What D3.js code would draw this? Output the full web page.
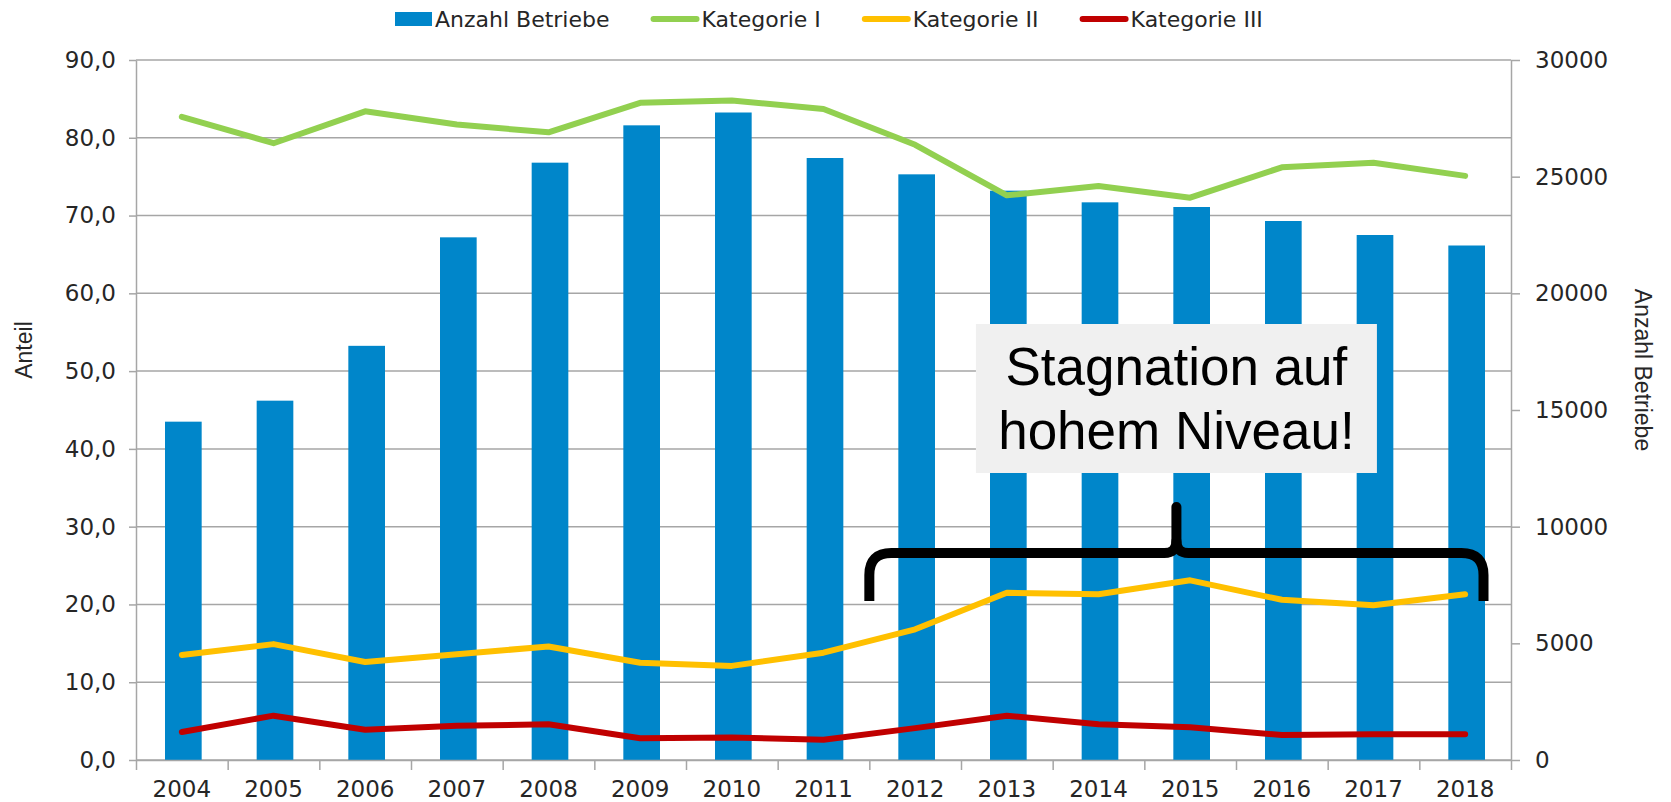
<!DOCTYPE html>
<html>
<head>
<meta charset="utf-8">
<script src="https://cdn.jsdelivr.net/npm/d3@7"></script>
<style>
  body { margin: 0; background: #fff; }
  svg { display: block; }
</style>
</head>
<body>
<svg id="chart"></svg>
<script>
// data
let years = ["2004", "2005", "2006", "2007", "2008", "2009", "2010", "2011", "2012", "2013", "2014", "2015", "2016", "2017", "2018"]
let betriebe = [14500, 15400, 17750, 22400, 25600, 27200, 27750, 25800, 25100, 24400, 23900, 23700, 23100, 22500, 22050]
let katI = [82.7, 79.3, 83.4, 81.7, 80.7, 84.5, 84.8, 83.7, 79.1, 72.6, 73.8, 72.3, 76.2, 76.8, 75.1]
let katII = [13.5, 14.9, 12.6, 13.6, 14.6, 12.5, 12.1, 13.8, 16.8, 21.5, 21.3, 23.1, 20.6, 19.9, 21.3]
let katIII = [3.6, 5.7, 3.9, 4.4, 4.6, 2.8, 2.9, 2.6, 4.1, 5.7, 4.6, 4.2, 3.2, 3.3, 3.3]
let leftTicks = [0, 10, 20, 30, 40, 50, 60, 70, 80, 90]
let rightTicks = [0, 5000, 10000, 15000, 20000, 25000, 30000]
let seriesNames = ["Anzahl Betriebe", "Kategorie I", "Kategorie II", "Kategorie III"]
let noteLines = ["Stagnation auf", "hohem Niveau!"]

let width = 1671
let height = 802
let margin = { top: 60, right: 160, bottom: 42, left: 136 }

let colors = { bar: "#0086ca", k1: "#92d050", k2: "#ffc000", k3: "#c00000" }
let gridColor = "#a6a6a6"
let textColor = "#262626"

let svg = d3.select("#chart")
    .attr("width", width)
    .attr("height", height)

// scales
let xb = d3.scaleBand()
    .domain(years)
    .range([margin.left, width - margin.right])
    .paddingInner(0.6)
    .paddingOuter(0.3)
let xTick = d3.scaleLinear().domain([0, years.length]).range([margin.left, width - margin.right])
let yL = d3.scaleLinear().domain([0, 90]).range([height - margin.bottom, margin.top])
let yR = d3.scaleLinear().domain([0, 30000]).range([height - margin.bottom, margin.top])
let cx = d => xb(d) + xb.bandwidth() / 2

// gridlines
svg.append("g")
    .selectAll("line")
    .data(leftTicks)
    .enter()
    .append("line")
    .attr("x1", margin.left)
    .attr("x2", width - margin.right)
    .attr("y1", d => yL(d))
    .attr("y2", d => yL(d))
    .attr("stroke", gridColor)
    .attr("stroke-width", 1.5)

// bars
svg.append("g")
    .selectAll("rect")
    .data(years)
    .enter()
    .append("rect")
    .attr("x", d => xb(d) + 1.5)
    .attr("width", xb.bandwidth())
    .attr("y", (d, i) => yR(betriebe[i]))
    .attr("height", (d, i) => yR(0) - yR(betriebe[i]))
    .attr("fill", colors.bar)

// lines
let line = d3.line()
    .x((d, i) => cx(years[i]))
    .y(d => yL(d))

let lineSeries = [[katI, colors.k1], [katII, colors.k2], [katIII, colors.k3]]
svg.append("g")
    .selectAll("path")
    .data(lineSeries)
    .enter()
    .append("path")
    .attr("d", d => line(d[0]))
    .attr("fill", "none")
    .attr("stroke", d => d[1])
    .attr("stroke-width", 6)
    .attr("stroke-linecap", "round")
    .attr("stroke-linejoin", "round")

// axes
function styleAxis(g) {
    g.selectAll("path, line").attr("stroke", gridColor).attr("stroke-width", 1.5)
    g.selectAll("text")
        .attr("fill", textColor)
        .style("font-family", "'DejaVu Sans', Verdana, sans-serif")
        .style("font-size", "23px")
}

svg.append("g")
    .attr("transform", "translate(" + margin.left + ",0)")
    .call(d3.axisLeft(yL).tickValues(leftTicks).tickSize(7).tickSizeOuter(0).tickPadding(13)
        .tickFormat(d => d.toFixed(1).replace(".", ",")))
    .call(styleAxis)

svg.append("g")
    .attr("transform", "translate(" + (width - margin.right) + ",0)")
    .call(d3.axisRight(yR).tickValues(rightTicks).tickSize(9).tickSizeOuter(0).tickPadding(15)
        .tickFormat(d3.format("d")))
    .call(styleAxis)

// bottom axis: tick marks on category boundaries, labels in the middle
svg.append("g")
    .attr("transform", "translate(0," + (height - margin.bottom) + ")")
    .call(d3.axisBottom(xTick).ticks(years.length).tickSize(10).tickSizeOuter(0).tickFormat(""))
    .call(styleAxis)

svg.append("g")
    .attr("transform", "translate(0," + (height - margin.bottom) + ")")
    .call(d3.axisBottom(xb).tickSize(0).tickPadding(21))
    .call(styleAxis)
    .call(g => g.select(".domain").remove())

// axis titles
svg.append("text")
    .text("Anteil")
    .attr("transform", "translate(32," + 350 + ") rotate(-90)")
    .attr("text-anchor", "middle")
    .attr("fill", textColor)
    .style("font-family", "'Liberation Sans', Arial, sans-serif")
    .style("font-size", "23px")

svg.append("text")
    .text("Anzahl Betriebe")
    .attr("transform", "translate(1635," + 370 + ") rotate(90)")
    .attr("text-anchor", "middle")
    .attr("fill", textColor)
    .style("font-family", "'Liberation Sans', Arial, sans-serif")
    .style("font-size", "23px")

// legend, laid out left to right
let legend = svg.append("g")
let legendColors = [colors.bar, colors.k1, colors.k2, colors.k3]
let lx = 395
seriesNames.forEach(function (name, i) {
    let sw = i == 0 ? 37 : 47
    if (i == 0) {
        legend.append("rect").attr("x", lx).attr("y", 12).attr("width", sw).attr("height", 14)
            .attr("fill", legendColors[i])
    } else {
        legend.append("line").attr("x1", lx + 2).attr("x2", lx + sw - 2).attr("y1", 19).attr("y2", 19)
            .attr("stroke", legendColors[i]).attr("stroke-width", 6).attr("stroke-linecap", "round")
    }
    let t = legend.append("text")
        .text(name)
        .attr("x", lx + sw + 3)
        .attr("y", 27)
        .attr("fill", textColor)
        .style("font-family", "'DejaVu Sans', Verdana, sans-serif")
        .style("font-size", "22px")
    lx += sw + 3 + t.node().getComputedTextLength() + 42
})

// annotation: curly brace over 2012-2018 plus note box
let bL = xb("2012") - xb.step() * xb.paddingInner() / 2
let bR = xb("2018") + xb.bandwidth()
let mid = (bL + bR) / 2
let yBar = 553, yLeg = 601, yTip = 507

let brace = svg.append("g")
    .attr("fill", "none")
    .attr("stroke", "#000")
    .attr("stroke-width", 10)
    .attr("stroke-linejoin", "round")

brace.append("path")
    .attr("d", "M" + bL + "," + yLeg + " L" + bL + "," + (yBar + 22) +
        " Q" + bL + "," + yBar + " " + (bL + 22) + "," + yBar +
        " L" + (mid - 12) + "," + yBar +
        " Q" + mid + "," + yBar + " " + mid + "," + (yBar - 12) +
        " Q" + mid + "," + yBar + " " + (mid + 12) + "," + yBar +
        " L" + (bR - 22) + "," + yBar +
        " Q" + bR + "," + yBar + " " + bR + "," + (yBar + 22) +
        " L" + bR + "," + yLeg)

brace.append("line")
    .attr("x1", mid).attr("x2", mid)
    .attr("y1", yBar - 10).attr("y2", yTip)
    .attr("stroke-linecap", "round")

svg.append("rect")
    .attr("x", mid - 200.5)
    .attr("y", 324)
    .attr("width", 401)
    .attr("height", 149)
    .attr("fill", "#f0f0f0")

svg.append("g")
    .selectAll("text")
    .data(noteLines)
    .enter()
    .append("text")
    .text(d => d)
    .attr("x", mid)
    .attr("y", (d, i) => 385 + i * 63.5)
    .attr("text-anchor", "middle")
    .attr("fill", "#000")
    .style("font-family", "'Liberation Sans', Arial, sans-serif")
    .style("font-size", "53px")
</script>
</body>
</html>
